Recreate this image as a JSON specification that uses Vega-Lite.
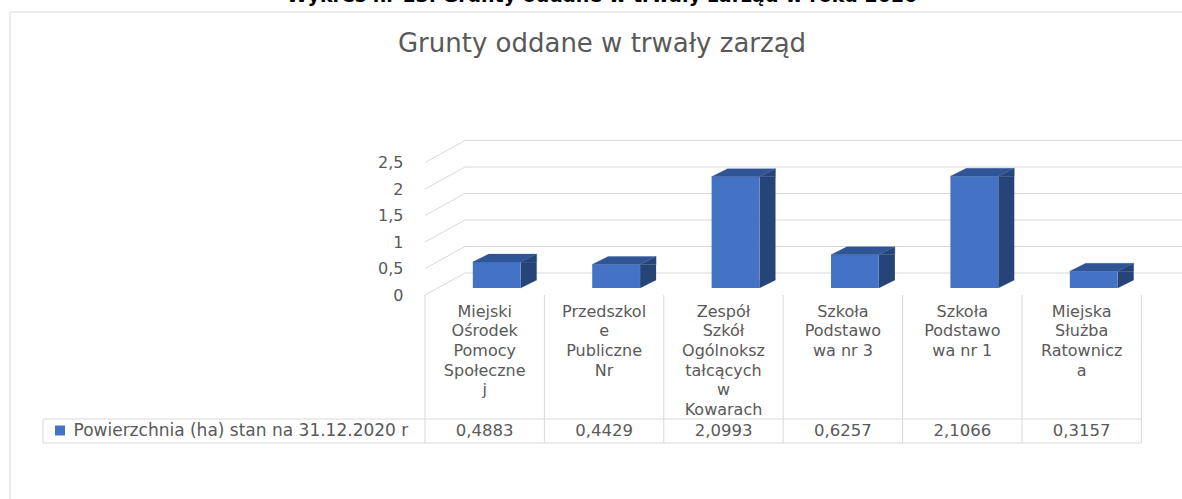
{
  "$schema": "https://vega.github.io/schema/vega-lite/v6.json",
  "width": 1172,
  "height": 487,
  "autosize": {"type": "none"},
  "padding": {"left": 10, "top": 12, "right": 0, "bottom": 0},
  "background": "#ffffff",
  "config": {
    "view": {"stroke": null},
    "font": "DejaVu Sans",
    "locale": {"number": {"decimal": ",", "thousands": " ", "grouping": [3], "currency": ["", " zł"]}}
  },
  "title": {
    "text": "Wykres nr 13. Grunty oddane w trwały zarząd w roku 2020",
    "subtitle": "Grunty oddane w trwały zarząd",
    "font": "DejaVu Sans",
    "fontSize": 19,
    "fontWeight": "bold",
    "color": "#000000",
    "subtitleFont": "DejaVu Sans",
    "subtitleFontSize": 26,
    "subtitleFontWeight": "normal",
    "subtitleColor": "#595959",
    "subtitlePadding": 25,
    "anchor": "middle",
    "frame": "group",
    "offset": -45,
    "dx": 6
  },
  "datasets": {
    "units": [
      {"name": "Miejski Ośrodek Pomocy Społecznej", "ha": 0.4883, "series": "Powierzchnia (ha) stan na 31.12.2020 r"},
      {"name": "Przedszkole Publiczne Nr", "ha": 0.4429, "series": "Powierzchnia (ha) stan na 31.12.2020 r"},
      {"name": "Zespół Szkół Ogólnokształcących w Kowarach", "ha": 2.0993, "series": "Powierzchnia (ha) stan na 31.12.2020 r"},
      {"name": "Szkoła Podstawowa nr 3", "ha": 0.6257, "series": "Powierzchnia (ha) stan na 31.12.2020 r"},
      {"name": "Szkoła Podstawowa nr 1", "ha": 2.1066, "series": "Powierzchnia (ha) stan na 31.12.2020 r"},
      {"name": "Miejska Służba Ratownicza", "ha": 0.3157, "series": "Powierzchnia (ha) stan na 31.12.2020 r"}
    ],
    "ticks": [{"t": 0}, {"t": 0.5}, {"t": 1}, {"t": 1.5}, {"t": 2}, {"t": 2.5}]
  },
  "data": {"name": "units"},
  "layer": [
    {
      "data": {"name": "ticks"},
      "mark": {"type": "point", "shape": "M-59.7,22L-19.7,0L712,0", "size": 4, "filled": false, "stroke": "#d9d9d9", "strokeWidth": 1, "opacity": 1},
      "encoding": {
        "x": {
          "datum": "Miejski Ośrodek Pomocy Społecznej",
          "type": "nominal",
          "scale": {
            "domain": [
              "Miejski Ośrodek Pomocy Społecznej",
              "Przedszkole Publiczne Nr",
              "Zespół Szkół Ogólnokształcących w Kowarach",
              "Szkoła Podstawowa nr 3",
              "Szkoła Podstawowa nr 1",
              "Miejska Służba Ratownicza"
            ],
            "range": [415, 1131.4],
            "paddingInner": 0,
            "paddingOuter": 0
          },
          "axis": {
            "title": null,
            "orient": "bottom",
            "offset": -196,
            "domain": false,
            "ticks": false,
            "labelPadding": 0,
            "labelBaseline": "top",
            "labelLineHeight": 19.7,
            "labelFont": "DejaVu Sans",
            "labelFontSize": 16,
            "labelColor": "#595959",
            "labelAngle": 0,
            "labelLimit": 300,
            "labelOverlap": false,
            "labelBound": false,
            "labelFlush": false,
            "labelExpr": "{'Miejski Ośrodek Pomocy Społecznej': ['Miejski', 'Ośrodek', 'Pomocy', 'Społeczne', 'j'], 'Przedszkole Publiczne Nr': ['Przedszkol', 'e', 'Publiczne', 'Nr'], 'Zespół Szkół Ogólnokształcących w Kowarach': ['Zespół', 'Szkół', 'Ogólnoksz', 'tałcących', 'w', 'Kowarach'], 'Szkoła Podstawowa nr 3': ['Szkoła', 'Podstawo', 'wa nr 3'], 'Szkoła Podstawowa nr 1': ['Szkoła', 'Podstawo', 'wa nr 1'], 'Miejska Służba Ratownicza': ['Miejska', 'Służba', 'Ratownicz', 'a']}[datum.label] || datum.label"
          }
        },
        "y": {
          "field": "t",
          "type": "quantitative",
          "scale": {"domain": [0, 2.5], "range": [261, 128.5], "nice": false, "zero": true},
          "axis": {
            "title": null,
            "values": [0, 0.5, 1, 1.5, 2, 2.5],
            "format": ".1~f",
            "grid": false,
            "domain": false,
            "ticks": false,
            "offset": -393,
            "labelPadding": 0,
            "labelOffset": 22,
            "labelBaseline": "middle",
            "labelFont": "DejaVu Sans",
            "labelFontSize": 16,
            "labelColor": "#595959"
          }
        }
      }
    },
    {
      "data": {"values": [{}]},
      "mark": {"type": "point", "shape": "M-441.7,146L656.7,146M-441.7,170L656.7,170M-441.7,146L-441.7,170M656.7,22L656.7,170", "size": 4, "filled": false, "stroke": "#d9d9d9", "strokeWidth": 1, "opacity": 1},
      "encoding": {
        "x": {"datum": "Miejski Ośrodek Pomocy Społecznej", "type": "nominal"},
        "y": {"datum": 0, "type": "quantitative"}
      }
    },
    {
      "mark": {"type": "rule", "stroke": "#d9d9d9", "strokeWidth": 1, "yOffset": 22, "y2Offset": 170},
      "encoding": {
        "x": {"field": "name", "type": "nominal", "bandPosition": 0},
        "y": {"datum": 0, "type": "quantitative"},
        "y2": {"datum": 0}
      }
    },
    {
      "mark": {"type": "bar", "width": 16, "xOffset": 44, "yOffset": 15, "y2Offset": 7, "fill": "#264478", "stroke": null},
      "encoding": {
        "x": {"field": "name", "type": "nominal"},
        "y": {"field": "ha", "type": "quantitative"},
        "y2": {"datum": 0}
      }
    },
    {
      "mark": {"type": "point", "shape": "M24,-8L24,0L40,-8Z", "size": 4, "filled": true, "fill": "#264478", "stroke": "#264478", "strokeWidth": 0.3, "opacity": 1, "xOffset": 12, "yOffset": 15},
      "encoding": {
        "x": {"field": "name", "type": "nominal"},
        "y": {"datum": 0, "type": "quantitative"}
      }
    },
    {
      "mark": {"type": "point", "shape": "M24,0L40,-8L40,0Z", "size": 4, "filled": true, "fill": "#264478", "stroke": "#264478", "strokeWidth": 0.3, "opacity": 1, "xOffset": 12, "yOffset": 15},
      "encoding": {
        "x": {"field": "name", "type": "nominal"},
        "y": {"field": "ha", "type": "quantitative"}
      }
    },
    {
      "mark": {"type": "bar", "width": {"band": 0.4}, "xOffset": 12, "yOffset": 15, "y2Offset": 15, "stroke": null},
      "encoding": {
        "x": {"field": "name", "type": "nominal"},
        "y": {"field": "ha", "type": "quantitative"},
        "y2": {"datum": 0},
        "color": {
          "field": "series",
          "type": "nominal",
          "scale": {"range": ["#4472C4"]},
          "legend": {
            "orient": "none",
            "legendX": 41.5,
            "legendY": 410,
            "title": null,
            "padding": 0,
            "symbolType": "square",
            "symbolSize": 100,
            "symbolStrokeWidth": 0,
            "labelFont": "DejaVu Sans",
            "labelFontSize": 17,
            "labelColor": "#595959",
            "labelOffset": 5,
            "labelLimit": 600
          }
        }
      }
    },
    {
      "mark": {"type": "point", "shape": "M-24,0L24,0L40,-8L-8,-8Z", "size": 4, "filled": true, "fill": "#2F5597", "stroke": "#2F5597", "strokeWidth": 0.3, "opacity": 1, "xOffset": 12, "yOffset": 15},
      "encoding": {
        "x": {"field": "name", "type": "nominal"},
        "y": {"field": "ha", "type": "quantitative"}
      }
    },
    {
      "mark": {"type": "text", "yOffset": 158, "baseline": "middle", "align": "center", "font": "DejaVu Sans", "fontSize": 16.5, "color": "#595959"},
      "encoding": {
        "x": {"field": "name", "type": "nominal"},
        "y": {"datum": 0, "type": "quantitative"},
        "text": {"field": "ha", "type": "quantitative", "format": ".4f"}
      }
    },
    {
      "data": {"values": [{}]},
      "mark": {"type": "rule", "stroke": "#d9d9d9", "strokeWidth": 1},
      "encoding": {
        "x": {"value": 0},
        "y": {"value": 0},
        "y2": {"value": "height"}
      }
    },
    {
      "data": {"values": [{}]},
      "mark": {"type": "rule", "stroke": "#d9d9d9", "strokeWidth": 1},
      "encoding": {
        "x": {"value": 0},
        "x2": {"value": "width"},
        "y": {"value": 0}
      }
    }
  ]
}
